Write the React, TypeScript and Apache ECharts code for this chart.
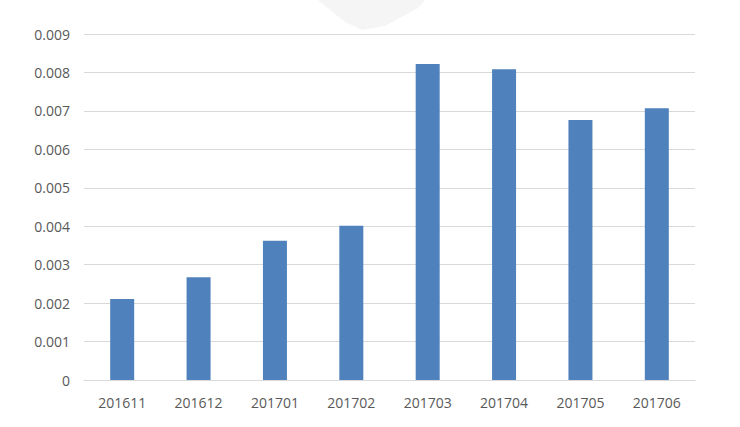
import React, { useEffect, useRef } from "react";
import * as echarts from "echarts";

const categories = ["201611", "201612", "201701", "201702", "201703", "201704", "201705", "201706"];
const values = [0.00211, 0.00267, 0.00362, 0.00401, 0.00822, 0.00808, 0.00676, 0.00707];
const yTicks = { min: 0, max: 0.009, interval: 0.001 };

export default function App() {
  const ref = useRef<HTMLDivElement>(null);
  useEffect(() => {
    const chart = echarts.init(ref.current!, null, { renderer: "svg" });
    chart.setOption({
      animation: false,
      backgroundColor: "#ffffff",
      graphic: [
        {
          type: "polygon",
          silent: true,
          z: -10,
          shape: { points: [[318, 0], [345, 22], [362, 30], [385, 26], [418, 8], [425, 0]] },
          style: { fill: "#f5f5f5" },
        },
      ],
      grid: { left: 84, right: 45, top: 34, bottom: 47 },
      xAxis: {
        type: "category",
        data: categories,
        axisLine: { show: true, lineStyle: { color: "#d9d9d9", width: 1 } },
        axisTick: { show: false },
        axisLabel: { color: "#595959", fontSize: 14, margin: 15, fontFamily: "Open Sans" },
      },
      yAxis: {
        type: "value",
        min: yTicks.min,
        max: yTicks.max,
        interval: yTicks.interval,
        axisLine: { show: false },
        axisTick: { show: false },
        splitLine: { lineStyle: { color: "#d9d9d9", width: 1 } },
        axisLabel: {
          color: "#595959",
          fontSize: 14,
          margin: 14,
          fontFamily: "Open Sans",
          formatter: (v: number) => (v === 0 ? "0" : v.toFixed(3)),
        },
      },
      series: [
        {
          type: "bar",
          data: values,
          barWidth: 24,
          itemStyle: { color: "#4f81bd" },
        },
      ],
    });
    return () => chart.dispose();
  }, []);
  return <div ref={ref} style={{ width: 740, height: 427, position: "absolute", left: 0, top: 0 }} />;
}
